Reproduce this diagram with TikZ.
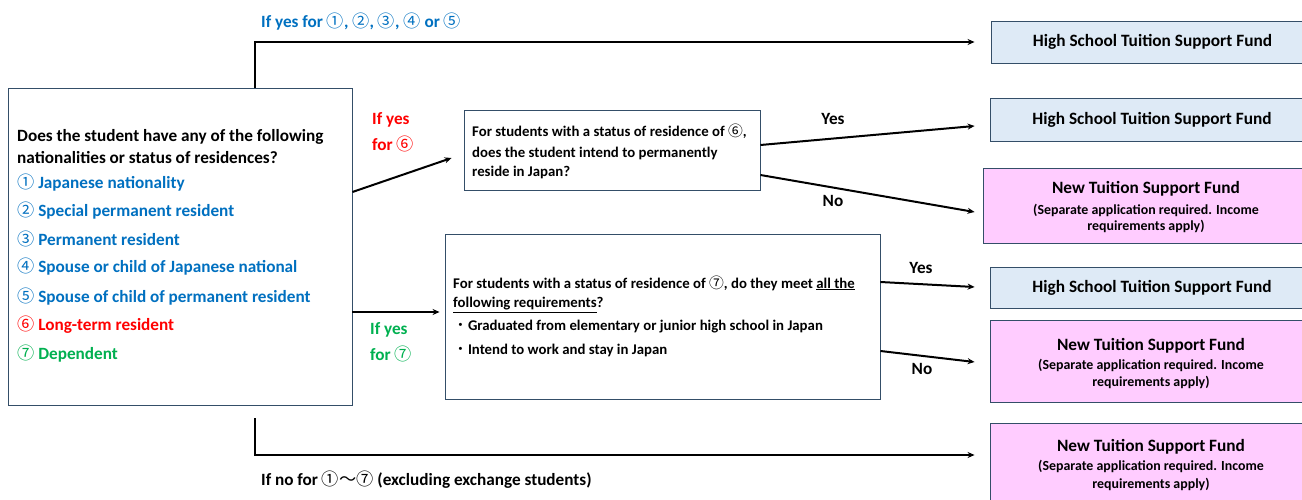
\documentclass[tikz,border=0pt]{standalone}
\usepackage{fontspec}
\setmainfont{Carlito}
\newfontfamily\cjkf{Noto Sans CJK JP}
\usetikzlibrary{arrows.meta}
\newcommand\cn[1]{{\cjkf\mdseries #1}}
\definecolor{bordc}{RGB}{52,78,104}
\definecolor{tblue}{RGB}{0,112,192}
\definecolor{tred}{RGB}{255,0,0}
\definecolor{tgreen}{RGB}{0,176,80}
\definecolor{hsfill}{RGB}{222,234,246}
\definecolor{ntfill}{RGB}{255,204,255}
\tikzset{
  box/.style={draw=bordc, line width=0.9pt, fill=white, inner sep=0pt},
  hsbox/.style={box, fill=hsfill, font=\bfseries\fontsize{17.3}{20}\selectfont, align=center},
  ntbox/.style={box, fill=ntfill},
  nttitle/.style={inner sep=0pt, font=\bfseries\fontsize{17.3}{20}\selectfont},
  ntsub/.style={inner sep=0pt, font=\bfseries\fontsize{13.9}{16}\selectfont},
  arr/.style={line width=2pt, -{Stealth[length=7pt,width=6pt]}},
  txt/.style={anchor=west, inner sep=0pt, font=\bfseries\fontsize{17.2}{20}\selectfont},
  qtxt/.style={anchor=west, inner sep=0pt, font=\bfseries\fontsize{14.8}{17}\selectfont},
  lab/.style={inner sep=0pt, font=\bfseries\fontsize{17.2}{20}\selectfont},
}
\begin{document}
\begin{tikzpicture}[x=1pt,y=-1pt]
\useasboundingbox (0,0) rectangle (1302,500);
% boxes
\node[box, minimum width=344, minimum height=317] (main) at (180,246.5) {};
\node[box, minimum width=296, minimum height=80] (q6) at (612,150) {};
\node[box, minimum width=435, minimum height=165] (q7) at (662.5,316.5) {};
\node[hsbox, minimum width=323, minimum height=42] (hs1) at (1152.5,42) {High School Tuition Support Fund};
\node[hsbox, minimum width=324, minimum height=43] (hs2) at (1152,119.5) {High School Tuition Support Fund};
\node[ntbox, minimum width=331, minimum height=75] (nt1) at (1148.5,205.5) {};
\node[hsbox, minimum width=324, minimum height=41] (hs3) at (1152,287.5) {High School Tuition Support Fund};
\node[ntbox, minimum width=324, minimum height=82] (nt2) at (1152,361) {};
\node[ntbox, minimum width=324, minimum height=87] (nt3) at (1152,466.5) {};
% new fund texts
\node[nttitle] (nt1a) at (1146,189) {New Tuition Support Fund};
\node[ntsub] (nt1b) at (1146,210) {(Separate application required. Income};
\node[ntsub] (nt1c) at (1146,226) {requirements apply)};
\node[nttitle] (nt2a) at (1151,346) {New Tuition Support Fund};
\node[ntsub] (nt2b) at (1151,365) {(Separate application required. Income};
\node[ntsub] (nt2c) at (1151,382) {requirements apply)};
\node[nttitle] (nt3a) at (1151,447) {New Tuition Support Fund};
\node[ntsub] (nt3b) at (1151,466) {(Separate application required. Income};
\node[ntsub] (nt3c) at (1151,484) {requirements apply)};
% main text
\node[txt] (m1) at (17,137) {Does the student have any of the following};
\node[txt] (m2) at (17,158) {nationalities or status of residences?};
\node[txt, tblue] (i1) at (17,183) {\cn{①} Japanese nationality};
\node[txt, tblue] (i2) at (17,211) {\cn{②} Special permanent resident};
\node[txt, tblue] (i3) at (17,239) {\cn{③} Permanent resident};
\node[txt, tblue] (i4) at (17,267) {\cn{④} Spouse or child of Japanese national};
\node[txt, tblue] (i5) at (17,297) {\cn{⑤} Spouse of child of permanent resident};
\node[txt, tred] (i6) at (17,325) {\cn{⑥} Long-term resident};
\node[txt, tgreen] (i7) at (17,354) {\cn{⑦} Dependent};
% q6 text
\node[qtxt] (q6a) at (472,131) {For students with a status of residence of \cn{⑥},};
\node[qtxt] (q6b) at (472,153) {does the student intend to permanently};
\node[qtxt] (q6c) at (472,172) {reside in Japan?};
% q7 text
\node[qtxt] (q7a) at (453,283) {For students with a status of residence of \cn{⑦}, do they meet \underline{all the}};
\node[qtxt] (q7b) at (453,305) {\underline{following requirements}?};
\node[qtxt] (q7c) at (453,327) {\cn{・}Graduated from elementary or junior high school in Japan};
\node[qtxt] (q7d) at (453,350) {\cn{・}Intend to work and stay in Japan};
% connectors
\draw[arr] ([xshift=75]main.north) |- ([xshift=-16]hs1.west);
\draw[arr] ([yshift=54.5]main.east) -- ([xshift=-12,yshift=-8]q6.west);
\draw[arr] ([yshift=5]q6.east) -- ([xshift=-15,yshift=-6.5]hs2.west);
\draw[arr] ([yshift=-25]q6.east) -- ([xshift=-8,yshift=-6.5]nt1.west);
\draw[arr] ([yshift=-65.5]main.east) -- ([xshift=-5,yshift=4.5]q7.west);
\draw[arr] ([yshift=34.5]q7.east) -- ([xshift=-15,yshift=0.5]hs3.west);
\draw[arr] ([yshift=-34.5]q7.east) -- ([xshift=-15,yshift=-1]nt2.west);
\draw[arr] ([xshift=75,yshift=-13]main.south) |- ([xshift=-15,yshift=11.5]nt3.west);
% labels
\node[lab, tblue, anchor=west] (l1) at (261,22) {If yes for \cn{①}, \cn{②}, \cn{③}, \cn{④} or \cn{⑤}};
\node[lab, tred, anchor=west] (l6a) at (372,120) {If yes};
\node[lab, tred, anchor=west] (l6b) at (372,144) {for \cn{⑥}};
\node[lab, tgreen, anchor=west] (l7a) at (370,330) {If yes};
\node[lab, tgreen, anchor=west] (l7b) at (370,354) {for \cn{⑦}};
\node[lab] (y6) at (833,119) {Yes};
\node[lab] (n6) at (833,201) {No};
\node[lab] (y7) at (921,268) {Yes};
\node[lab] (n7) at (922,369) {No};
\node[lab, anchor=west] (lno) at (261,480) {If no for \cn{①～⑦} (excluding exchange students)};
\end{tikzpicture}
\end{document}
